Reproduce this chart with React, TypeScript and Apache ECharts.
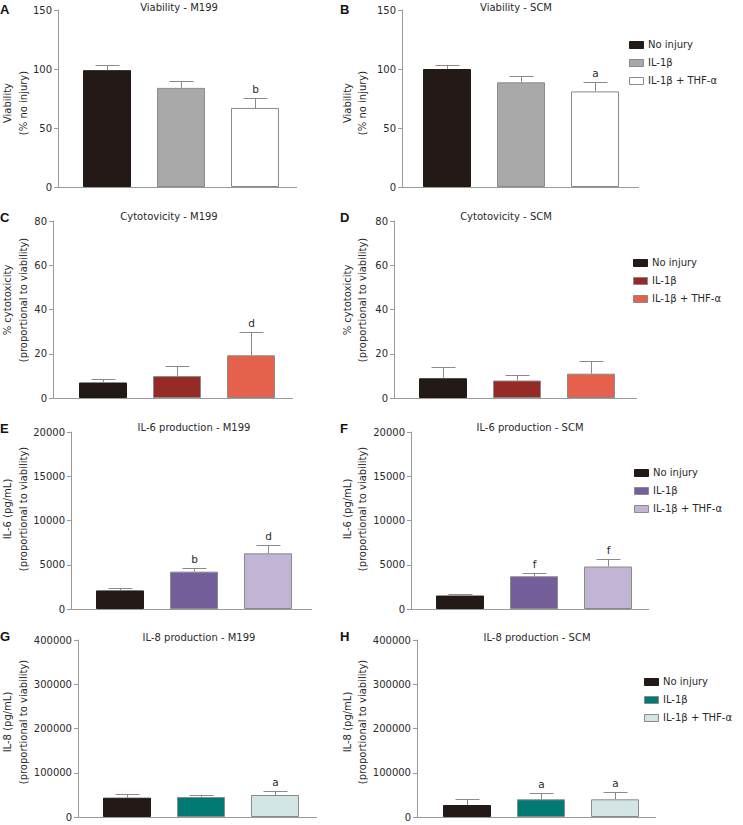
import React, { useEffect, useRef } from "react";
import * as echarts from "echarts";

// ---------- data ----------
const groups = ["No injury", "IL-1β", "IL-1β + THF-α"];

const viabilityM199 = [99, 84, 67];
const viabilityM199Err = [103.5, 90, 75.7];
const viabilityM199Sig = ["", "", "b"];

const viabilitySCM = [100, 88.7, 81];
const viabilitySCMErr = [103.4, 93.8, 88.7];
const viabilitySCMSig = ["", "", "a"];

const cytoM199 = [7.0, 9.9, 19.3];
const cytoM199Err = [8.8, 14.3, 30];
const cytoM199Sig = ["", "", "d"];

const cytoSCM = [8.9, 7.9, 11.0];
const cytoSCMErr = [13.9, 10.6, 16.5];
const cytoSCMSig = ["", "", ""];

const il6M199 = [2100, 4220, 6290];
const il6M199Err = [2420, 4680, 7230];
const il6M199Sig = ["", "b", "d"];

const il6SCM = [1520, 3700, 4800];
const il6SCMErr = [1700, 4080, 5600];
const il6SCMSig = ["", "f", "f"];

const il8M199 = [43600, 45200, 49700];
const il8M199Err = [51300, 50400, 58100];
const il8M199Sig = ["", "", "a"];

const il8SCM = [27100, 40000, 40000];
const il8SCMErr = [40700, 53600, 55800];
const il8SCMSig = ["", "a", "a"];

const titles = [
  "Viability - M199",
  "Viability - SCM",
  "Cytotovicity - M199",
  "Cytotovicity - SCM",
  "IL-6 production - M199",
  "IL-6 production - SCM",
  "IL-8 production - M199",
  "IL-8 production - SCM",
];
const letters = ["A", "B", "C", "D", "E", "F", "G", "H"];
const yNames = [
  ["Viability", "(% no injury)"],
  ["Viability", "(% no injury)"],
  ["% cytotoxicity", "(proportional to viability)"],
  ["% cytotoxicity", "(proportional to viability)"],
  ["IL-6 (pg/mL)", "(proportional to viability)"],
  ["IL-6 (pg/mL)", "(proportional to viability)"],
  ["IL-8 (pg/mL)", "(proportional to viability)"],
  ["IL-8 (pg/mL)", "(proportional to viability)"],
];
const yMax = [150, 150, 80, 80, 20000, 20000, 400000, 400000];
const yInterval = [50, 50, 20, 20, 5000, 5000, 100000, 100000];

const values = [viabilityM199, viabilitySCM, cytoM199, cytoSCM, il6M199, il6SCM, il8M199, il8SCM];
const errors = [viabilityM199Err, viabilitySCMErr, cytoM199Err, cytoSCMErr, il6M199Err, il6SCMErr, il8M199Err, il8SCMErr];
const sigs = [viabilityM199Sig, viabilitySCMSig, cytoM199Sig, cytoSCMSig, il6M199Sig, il6SCMSig, il8M199Sig, il8SCMSig];

// ---------- styles / layout ----------
const FONT = "DejaVu Sans";
const FS = 10;
const BLACK = "#231916";
const palettes = [
  [BLACK, "#a9a9a9", "#ffffff"],
  [BLACK, "#a9a9a9", "#ffffff"],
  [BLACK, "#962a27", "#e5614b"],
  [BLACK, "#962a27", "#e5614b"],
  [BLACK, "#755f9b", "#c1b4d5"],
  [BLACK, "#755f9b", "#c1b4d5"],
  [BLACK, "#007a73", "#d3e6e5"],
  [BLACK, "#007a73", "#d3e6e5"],
];
const AXIS = "#9a9a9a";
const EDGE = "#8a8a8a";
const TEXT = "#2a2a2a";

const layout = [
  { left: 70, top: 10, h: 177, off: 12, end: 297, tx: 179, ty: 7, ly: 9.5, ny: 103, side: 0 },
  { left: 410, top: 10, h: 177, off: 8, end: 639, tx: 516, ty: 7, ly: 9.5, ny: 103, side: 1 },
  { left: 66, top: 221, h: 177, off: 13, end: 293, tx: 169, ty: 216, ly: 217, ny: 300, side: 0 },
  { left: 406, top: 221, h: 177, off: 12, end: 637, tx: 506, ty: 216, ly: 217, ny: 300, side: 1 },
  { left: 83, top: 432, h: 177, off: 12, end: 312, tx: 194, ty: 427, ly: 428, ny: 509, side: 0 },
  { left: 423, top: 432, h: 177, off: 12, end: 649, tx: 530, ty: 427, ly: 428, ny: 509, side: 1 },
  { left: 90, top: 640, h: 177, off: 12, end: 317, tx: 199, ty: 637, ly: 636, ny: 722, side: 0 },
  { left: 430, top: 640, h: 177, off: 13, end: 656, tx: 537, ty: 637, ly: 636, ny: 722, side: 1 },
];
const legends = [
  { p: 1, x: 629, y: 44 },
  { p: 3, x: 633, y: 262 },
  { p: 5, x: 634, y: 472 },
  { p: 7, x: 644, y: 681 },
];

function buildOption() {
  const grid = layout.map((l) => ({ left: l.left, top: l.top, width: 222, height: l.h }));
  const xAxis = layout.map((_, i) => ({
    type: "category",
    gridIndex: i,
    data: groups,
    axisLine: { show: false },
    axisTick: { show: false },
    axisLabel: { show: false },
    splitLine: { show: false },
  }));
  const yAxis = layout.map((l, i) => ({
    type: "value",
    gridIndex: i,
    min: 0,
    max: yMax[i],
    interval: yInterval[i],
    offset: l.off,
    axisLine: { show: true, lineStyle: { color: AXIS, width: 1 } },
    axisTick: { show: true, length: 4, lineStyle: { color: AXIS } },
    axisLabel: { color: TEXT, fontSize: FS, fontFamily: FONT, margin: 6, formatter: (v: number) => String(v) },
    splitLine: { show: false },
  }));
  const series: any[] = [];
  layout.forEach((_, i) => {
    const pal = palettes[i];
    series.push({
      type: "bar",
      xAxisIndex: i,
      yAxisIndex: i,
      barWidth: 48,
      silent: true,
      data: values[i].map((v, j) => ({
        value: v,
        itemStyle: { color: pal[j], borderColor: j === 0 ? BLACK : EDGE, borderWidth: 1 },
      })),
    });
    const s = sigs[i];
    series.push({
      type: "custom",
      xAxisIndex: i,
      yAxisIndex: i,
      silent: true,
      z: 5,
      data: values[i].map((v, j) => [j, v, errors[i][j]]),
      encode: { x: 0, y: [1, 2] },
      renderItem: (params: any, api: any) => {
        const idx = api.value(0);
        const b = api.coord([idx, api.value(1)]);
        const e = api.coord([idx, api.value(2)]);
        const cx = Math.round(b[0]) + 0.5;
        const ey = Math.round(e[1]) + 0.5;
        const children: any[] = [
          { type: "line", shape: { x1: cx, y1: b[1], x2: cx, y2: ey }, style: { stroke: EDGE, lineWidth: 1 } },
          { type: "line", shape: { x1: cx - 12, y1: ey, x2: cx + 12, y2: ey }, style: { stroke: EDGE, lineWidth: 1 } },
        ];
        const lab = s[params.dataIndex];
        if (lab) {
          children.push({
            type: "text",
            x: cx,
            y: ey - 4,
            style: { text: lab, textAlign: "center", textVerticalAlign: "bottom", fontSize: 10.5, fontFamily: FONT, fill: TEXT },
          });
        }
        return { type: "group", children };
      },
    });
  });

  const graphic: any[] = [];
  layout.forEach((l, i) => {
    const y0 = l.top + l.h + 0.5;
    const axisX = l.left - l.off;
    graphic.push({ type: "line", shape: { x1: axisX, y1: y0, x2: l.end, y2: y0 }, style: { stroke: AXIS, lineWidth: 1 }, silent: true });
    graphic.push({
      type: "text",
      x: l.tx,
      y: l.ty,
      style: { text: titles[i], textAlign: "center", textVerticalAlign: "middle", fontSize: FS, fontFamily: FONT, fill: TEXT },
    });
    graphic.push({
      type: "text",
      x: l.side === 0 ? 0 : 340,
      y: l.ly,
      style: { text: letters[i], textAlign: "left", textVerticalAlign: "middle", fontSize: 13, fontWeight: "bold", fontFamily: "Liberation Sans", fill: "#111" },
    });
    const nx1 = l.side === 0 ? 7 : 347;
    const nx2 = l.side === 0 ? 23.5 : 362.5;
    graphic.push({
      type: "text",
      x: nx1,
      y: l.ny,
      rotation: Math.PI / 2,
      style: { text: yNames[i][0], textAlign: "center", textVerticalAlign: "middle", fontSize: FS, fontFamily: FONT, fill: TEXT },
    });
    graphic.push({
      type: "text",
      x: nx2,
      y: l.ny,
      rotation: Math.PI / 2,
      style: { text: yNames[i][1], textAlign: "center", textVerticalAlign: "middle", fontSize: FS, fontFamily: FONT, fill: TEXT },
    });
  });
  legends.forEach((lg) => {
    const pal = palettes[lg.p];
    groups.forEach((g, j) => {
      const cy = lg.y + j * 18;
      graphic.push({
        type: "rect",
        shape: { x: lg.x + 0.5, y: Math.round(cy - 3.5) + 0.5, width: 14, height: 7 },
        style: { fill: pal[j], stroke: j === 0 ? BLACK : EDGE, lineWidth: 1 },
      });
      graphic.push({
        type: "text",
        x: lg.x + 19,
        y: cy,
        style: { text: g, textAlign: "left", textVerticalAlign: "middle", fontSize: FS, fontFamily: FONT, fill: TEXT },
      });
    });
  });

  return { animation: false, backgroundColor: "#ffffff", grid, xAxis, yAxis, series, graphic };
}

export default function App() {
  const ref = useRef<HTMLDivElement>(null);
  useEffect(() => {
    if (!ref.current) return;
    const chart = echarts.init(ref.current, null, { renderer: "svg" });
    chart.setOption(buildOption() as any);
    return () => chart.dispose();
  }, []);
  return (
    <div
      ref={ref}
      style={{ position: "fixed", left: 0, top: 0, width: 743, height: 825, background: "#fff" }}
    />
  );
}
